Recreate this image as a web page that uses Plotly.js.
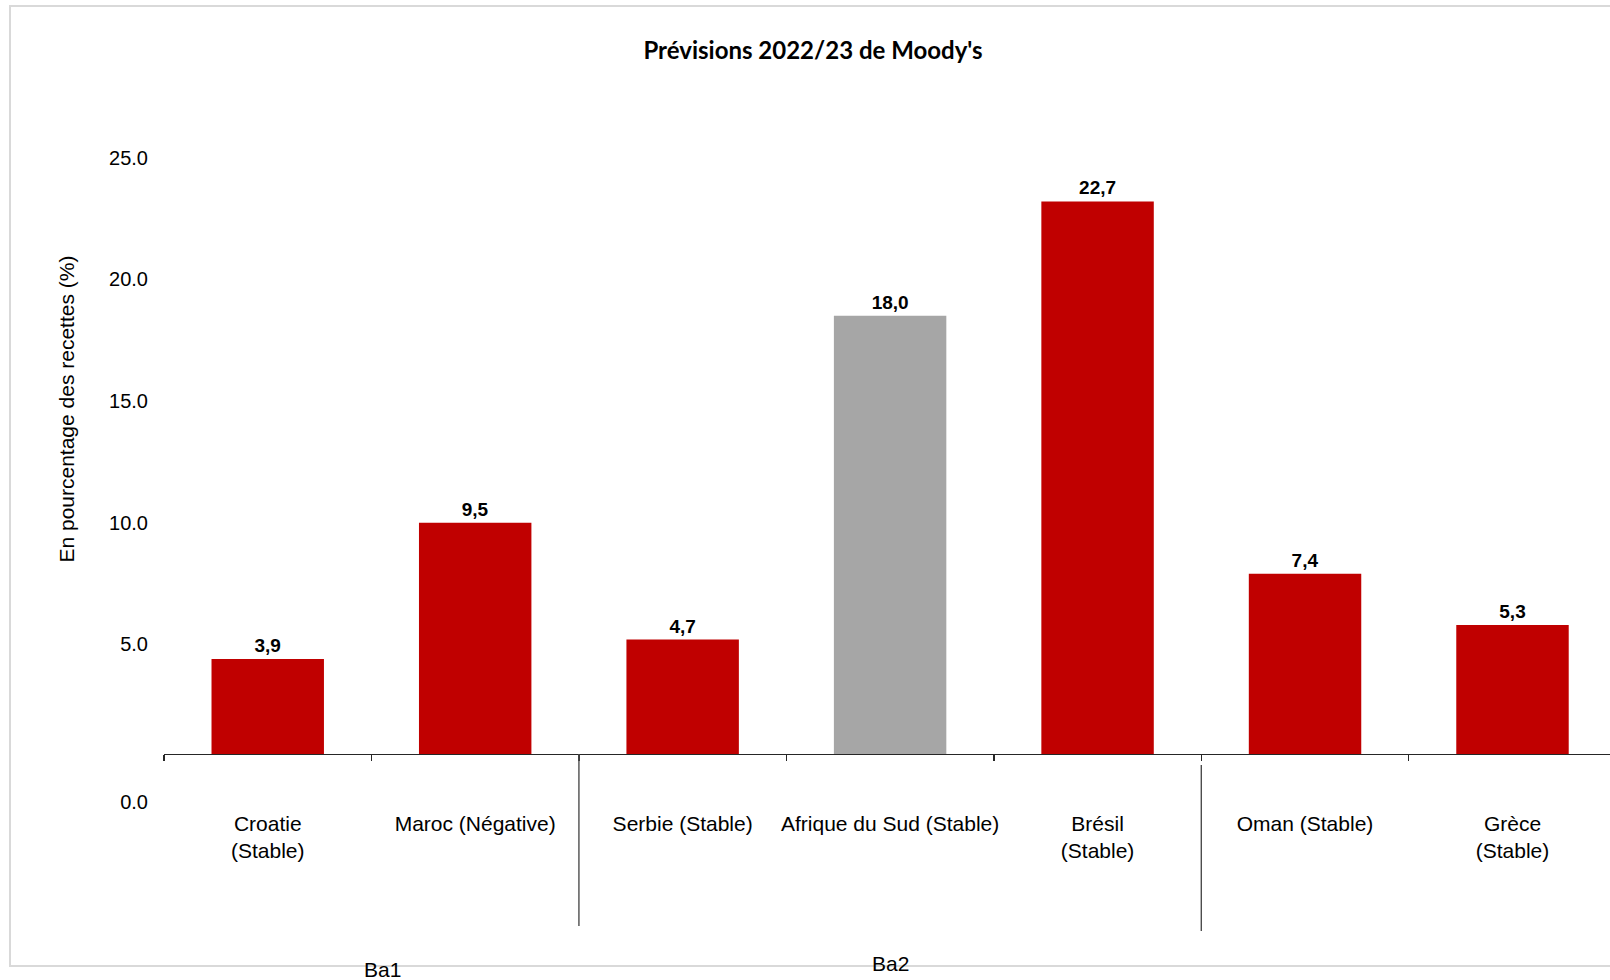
<!DOCTYPE html>
<html>
<head>
<meta charset="utf-8">
<script src="https://cdn.plot.ly/plotly-3.0.1.min.js"></script>
<style>
  html, body { margin: 0; padding: 0; background: #ffffff; }
  #frame {
    position: absolute; left: 9px; top: 5px;
    width: 1640px; height: 958px;
    border: 2px solid #d9d9d9;
    z-index: 0;
  }
  #chart { position: absolute; left: 0; top: 0; width: 1610px; height: 980px; z-index: 1; }
</style>
</head>
<body>
<div id="frame"></div>
<div id="chart"></div>
<script>
// Countries (with outlook) and Moody's 2022/23 forecast, in % of revenues
const categories = [
  'Croatie<br>(Stable)',
  'Maroc (Négative)',
  'Serbie (Stable)',
  'Afrique du Sud (Stable)',
  'Brésil<br>(Stable)',
  'Oman (Stable)',
  'Grèce<br>(Stable)'
];
const values = [3.9, 9.5, 4.7, 18.0, 22.7, 7.4, 5.3];
const highlight = [false, false, false, true, false, false, false];

// Rating groups along the category axis
const groupNames = ['Ba1', 'Ba2', ''];
const groupSizes = [2, 3, 2];

// Value-axis labels
const yTickText = ['0.0', '5.0', '10.0', '15.0', '20.0', '25.0'];

// ---- layout helpers ----
const RED = '#c00000';
const GREY = '#a6a6a6';
const TXT = 'Liberation Sans, Arial, sans-serif';
const Y_RANGE = [-9.285, 28.51];
const AXIS_POS = (0 - Y_RANGE[0]) / (Y_RANGE[1] - Y_RANGE[0]);
// tick labels sit half a unit below their nominal value; "0.0" lower still
const yTickVals = yTickText.map(t => {
  const v = parseFloat(t);
  return v === 0 ? -1.96 : v - 0.5;
});

const barTrace = {
  type: 'bar',
  x: categories,
  y: values,
  marker: { color: highlight.map(h => h ? GREY : RED), line: { width: 0 } },
  text: values.map(v => v.toFixed(1).replace('.', ',')),
  textposition: 'outside',
  cliponaxis: false,
  textfont: { family: 'Liberation Sans Narrow, Liberation Sans, Arial, sans-serif', size: 19, color: '#000000', weight: 700 },
  hoverinfo: 'skip'
};

// separators between rating groups, and group captions
const shapes = [];
const annotations = [];
let start = 0;
const sepStyle = [
  { from: 0, to: -7.07 },
  { from: -0.45, to: -7.27 }
];
const captionStyle = [
  { y: -8.85, xshift: 11 },
  { y: -8.6, xshift: 0 },
  { y: -8.6, xshift: 0 }
];
groupSizes.forEach((n, i) => {
  const end = start + n;
  if (groupNames[i]) {
    annotations.push({
      xref: 'x', yref: 'y',
      x: (start + end - 1) / 2, y: captionStyle[i].y,
      xshift: captionStyle[i].xshift,
      text: groupNames[i], showarrow: false,
      font: { family: TXT, size: 21, color: '#000000' },
      xanchor: 'center', yanchor: 'middle'
    });
  }
  if (i < groupSizes.length - 1) {
    const s = sepStyle[i];
    shapes.push({
      type: 'line', xref: 'x', yref: 'y',
      x0: end - 0.5, x1: end - 0.5, y0: s.from, y1: s.to,
      line: { color: '#4d4d4d', width: 1.4 }
    });
  }
  start = end;
});

// rotated value-axis caption
annotations.push({
  xref: 'paper', yref: 'y',
  x: -0.0671, y: 14.19,
  text: 'En pourcentage des recettes (%)',
  textangle: -90, showarrow: false,
  font: { family: TXT, size: 21, color: '#000000' },
  xanchor: 'center', yanchor: 'middle'
});

const layout = {
  width: 1610, height: 980,
  margin: { l: 164, r: 0, t: 60, b: 0, pad: 0 },
  paper_bgcolor: 'rgba(0,0,0,0)',
  plot_bgcolor: 'rgba(0,0,0,0)',
  showlegend: false,
  bargap: 0.458,
  title: {
    text: "Prévisions 2022/23 de Moody's",
    font: { family: 'Lato, Open Sans, sans-serif', size: 24, color: '#000000', weight: 700 },
    x: 0.505, xanchor: 'center', xref: 'container',
    y: 1 - 51 / 980, yanchor: 'middle', yref: 'container'
  },
  xaxis: {
    type: 'category',
    range: [-0.5, 6.47],
    anchor: 'free', position: AXIS_POS,
    showline: true, linecolor: '#262626', linewidth: 1.4,
    ticks: 'outside', tickson: 'boundaries', ticklen: 6,
    tickcolor: '#262626', tickwidth: 1.4,
    tickangle: 0,
    tickfont: { family: TXT, size: 21, color: '#000000' },
    ticklabelstandoff: 50,
    showgrid: false, zeroline: false, fixedrange: true
  },
  yaxis: {
    range: Y_RANGE,
    tickvals: yTickVals, ticktext: yTickText,
    ticks: '', showline: false, showgrid: false, zeroline: false,
    tickfont: { family: TXT, size: 20, color: '#000000' },
    ticklabelstandoff: 15,
    fixedrange: true
  },
  shapes: shapes,
  annotations: annotations
};

Plotly.newPlot('chart', [barTrace], layout, { displayModeBar: false, staticPlot: true });
</script>
</body>
</html>
